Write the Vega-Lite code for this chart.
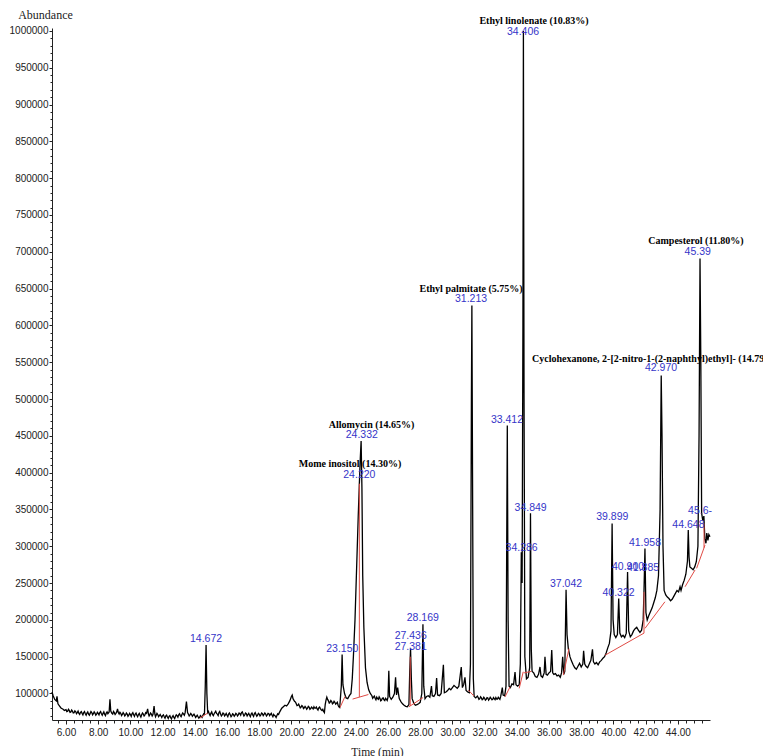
{
  "$schema": "https://vega.github.io/schema/vega-lite/v6.json",
  "width": 658,
  "height": 692,
  "autosize": {"type": "none"},
  "padding": {"left": 52, "top": 28, "right": 53, "bottom": 36},
  "background": "white",
  "config": {"view": {"stroke": null}},
  "datasets": {
    "trace": [
      {"t":5.13,"a":102000},{"t":5.2,"a":97000},{"t":5.3,"a":92000},{"t":5.4,"a":90000},{"t":5.44,"a":96000},{"t":5.5,"a":86000},{"t":5.6,"a":83000},{"t":5.7,"a":80000},{"t":5.8,"a":79000},{"t":5.9,"a":77000},
      {"t":6.0,"a":78000},{"t":6.05,"a":75500},{"t":6.1,"a":76000},{"t":6.15,"a":78500},{"t":6.2,"a":77000},{"t":6.25,"a":74500},{"t":6.3,"a":75000},{"t":6.35,"a":77500},{"t":6.4,"a":76000},{"t":6.45,"a":73500},{"t":6.5,"a":74000},{"t":6.55,"a":76500},{"t":6.6,"a":75500},{"t":6.65,"a":72500},{"t":6.7,"a":74000},{"t":6.75,"a":76000},{"t":6.8,"a":73000},{"t":6.85,"a":71500},{"t":6.9,"a":74500},{"t":6.95,"a":75500},
      {"t":7.0,"a":73000},{"t":7.05,"a":71000},{"t":7.1,"a":74000},{"t":7.15,"a":75500},{"t":7.2,"a":72500},{"t":7.25,"a":70500},{"t":7.3,"a":73500},{"t":7.35,"a":75000},{"t":7.4,"a":72000},{"t":7.45,"a":70500},{"t":7.5,"a":73000},{"t":7.55,"a":75500},{"t":7.6,"a":74000},{"t":7.65,"a":71000},{"t":7.7,"a":72500},{"t":7.75,"a":75000},{"t":7.8,"a":73500},{"t":7.85,"a":70500},{"t":7.9,"a":72000},{"t":7.95,"a":74500},
      {"t":8.0,"a":73000},{"t":8.05,"a":71000},{"t":8.1,"a":74000},{"t":8.15,"a":75500},{"t":8.2,"a":72500},{"t":8.25,"a":70500},{"t":8.3,"a":73000},{"t":8.35,"a":75000},{"t":8.4,"a":72000},{"t":8.45,"a":70000},{"t":8.5,"a":73500},{"t":8.55,"a":75000},{"t":8.6,"a":72500},{"t":8.68,"a":75000},{"t":8.73,"a":92000},{"t":8.78,"a":76000},{"t":8.85,"a":73000},{"t":8.9,"a":72000},{"t":8.95,"a":75500},
      {"t":9.0,"a":74000},{"t":9.05,"a":71500},{"t":9.1,"a":73000},{"t":9.15,"a":75000},{"t":9.2,"a":79000},{"t":9.25,"a":74000},{"t":9.3,"a":72000},{"t":9.35,"a":74500},{"t":9.4,"a":73000},{"t":9.45,"a":70000},{"t":9.5,"a":71500},{"t":9.55,"a":74000},{"t":9.6,"a":72500},{"t":9.65,"a":69500},{"t":9.7,"a":71000},{"t":9.75,"a":73500},{"t":9.8,"a":72000},{"t":9.85,"a":69000},{"t":9.9,"a":70500},{"t":9.95,"a":73000},
      {"t":10.0,"a":71500},{"t":10.05,"a":69000},{"t":10.1,"a":72500},{"t":10.15,"a":74000},{"t":10.2,"a":71000},{"t":10.25,"a":69000},{"t":10.3,"a":72000},{"t":10.35,"a":73500},{"t":10.4,"a":70500},{"t":10.45,"a":68500},{"t":10.5,"a":71500},{"t":10.55,"a":73000},{"t":10.6,"a":70000},{"t":10.65,"a":68000},{"t":10.7,"a":71000},{"t":10.75,"a":73500},{"t":10.8,"a":72000},{"t":10.85,"a":69500},{"t":10.9,"a":71000},{"t":10.95,"a":74000},
      {"t":11.0,"a":73000},{"t":11.07,"a":79000},{"t":11.12,"a":72000},{"t":11.16,"a":69500},{"t":11.2,"a":71000},{"t":11.25,"a":73500},{"t":11.3,"a":72000},{"t":11.35,"a":69500},{"t":11.4,"a":71500},{"t":11.47,"a":83000},{"t":11.52,"a":72000},{"t":11.56,"a":68500},{"t":11.6,"a":70500},{"t":11.65,"a":73000},{"t":11.7,"a":71500},{"t":11.75,"a":68500},{"t":11.8,"a":70000},{"t":11.85,"a":71500},{"t":11.9,"a":69500},{"t":11.95,"a":67500},
      {"t":12.0,"a":70000},{"t":12.05,"a":71000},{"t":12.1,"a":68500},{"t":12.15,"a":66500},{"t":12.2,"a":69500},{"t":12.25,"a":70500},{"t":12.3,"a":68000},{"t":12.35,"a":66000},{"t":12.4,"a":69000},{"t":12.45,"a":70000},{"t":12.5,"a":67000},{"t":12.55,"a":65500},{"t":12.6,"a":68500},{"t":12.65,"a":70000},{"t":12.7,"a":67500},{"t":12.75,"a":66000},{"t":12.8,"a":69000},{"t":12.85,"a":71000},{"t":12.9,"a":70000},{"t":12.95,"a":68000},
      {"t":13.0,"a":71000},{"t":13.05,"a":72500},{"t":13.1,"a":70000},{"t":13.15,"a":68500},{"t":13.2,"a":71500},{"t":13.25,"a":73500},{"t":13.3,"a":72000},{"t":13.35,"a":70500},{"t":13.4,"a":74000},{"t":13.48,"a":89000},{"t":13.55,"a":74000},{"t":13.6,"a":72000},{"t":13.65,"a":69500},{"t":13.7,"a":71000},{"t":13.75,"a":73000},{"t":13.8,"a":71500},{"t":13.85,"a":69000},{"t":13.9,"a":70500},{"t":13.95,"a":72000},
      {"t":14.0,"a":70000},{"t":14.05,"a":67500},{"t":14.1,"a":69000},{"t":14.15,"a":70500},{"t":14.2,"a":68500},{"t":14.25,"a":66500},{"t":14.3,"a":68000},{"t":14.35,"a":70000},{"t":14.4,"a":69000},{"t":14.45,"a":67500},{"t":14.5,"a":70000},{"t":14.55,"a":72500},{"t":14.6,"a":72000},{"t":14.65,"a":110000},{"t":14.7,"a":166000},{"t":14.75,"a":100000},{"t":14.8,"a":74000},{"t":14.85,"a":75500},{"t":14.9,"a":72000},{"t":14.95,"a":70000},
      {"t":15.0,"a":73000},{"t":15.05,"a":75000},{"t":15.1,"a":71500},{"t":15.15,"a":70000},{"t":15.2,"a":72500},{"t":15.3,"a":76000},{"t":15.35,"a":73000},{"t":15.4,"a":72000},{"t":15.45,"a":70000},{"t":15.5,"a":74000},{"t":15.55,"a":75500},{"t":15.6,"a":72000},{"t":15.65,"a":69500},{"t":15.7,"a":71000},{"t":15.75,"a":73500},{"t":15.8,"a":72500},{"t":15.85,"a":69500},{"t":15.9,"a":71000},{"t":15.95,"a":73000},
      {"t":16.0,"a":70500},{"t":16.05,"a":68500},{"t":16.1,"a":72000},{"t":16.15,"a":73500},{"t":16.2,"a":71000},{"t":16.25,"a":68500},{"t":16.3,"a":70000},{"t":16.35,"a":72500},{"t":16.4,"a":71500},{"t":16.45,"a":69000},{"t":16.5,"a":70500},{"t":16.55,"a":73000},{"t":16.6,"a":72000},{"t":16.65,"a":69500},{"t":16.7,"a":71000},{"t":16.75,"a":73500},{"t":16.8,"a":72500},{"t":16.85,"a":70500},{"t":16.9,"a":74000},{"t":16.95,"a":75000},
      {"t":17.0,"a":72000},{"t":17.05,"a":69500},{"t":17.1,"a":71000},{"t":17.15,"a":73500},{"t":17.2,"a":72500},{"t":17.25,"a":69500},{"t":17.3,"a":71500},{"t":17.35,"a":73000},{"t":17.4,"a":70500},{"t":17.45,"a":68500},{"t":17.5,"a":72000},{"t":17.55,"a":73500},{"t":17.6,"a":71000},{"t":17.65,"a":69000},{"t":17.7,"a":72500},{"t":17.75,"a":74000},{"t":17.8,"a":71500},{"t":17.85,"a":69000},{"t":17.9,"a":70500},{"t":17.95,"a":73000},
      {"t":18.0,"a":72000},{"t":18.05,"a":69500},{"t":18.1,"a":71000},{"t":18.15,"a":73500},{"t":18.2,"a":72500},{"t":18.25,"a":70000},{"t":18.3,"a":71500},{"t":18.35,"a":73500},{"t":18.4,"a":72000},{"t":18.45,"a":69500},{"t":18.5,"a":71000},{"t":18.55,"a":73000},{"t":18.6,"a":72500},{"t":18.65,"a":70000},{"t":18.7,"a":71500},{"t":18.75,"a":73000},{"t":18.8,"a":70500},{"t":18.85,"a":68500},{"t":18.9,"a":71500},{"t":18.95,"a":70000},
      {"t":19.0,"a":69500},{"t":19.05,"a":67500},{"t":19.1,"a":70000},{"t":19.15,"a":72500},{"t":19.2,"a":71500},{"t":19.25,"a":74000},{"t":19.3,"a":76000},{"t":19.4,"a":80000},{"t":19.5,"a":82000},{"t":19.6,"a":84000},{"t":19.7,"a":83000},{"t":19.8,"a":86000},{"t":19.9,"a":90000},
      {"t":20.0,"a":96000},{"t":20.05,"a":98000},{"t":20.1,"a":93000},{"t":20.2,"a":89000},{"t":20.25,"a":88500},{"t":20.3,"a":86000},{"t":20.35,"a":83500},{"t":20.4,"a":84000},{"t":20.45,"a":85500},{"t":20.5,"a":83000},{"t":20.55,"a":80500},{"t":20.6,"a":81500},{"t":20.65,"a":83500},{"t":20.7,"a":82500},{"t":20.75,"a":79500},{"t":20.8,"a":80500},{"t":20.85,"a":82500},{"t":20.9,"a":81000},{"t":20.95,"a":78500},
      {"t":21.0,"a":80000},{"t":21.05,"a":82500},{"t":21.1,"a":81500},{"t":21.15,"a":78500},{"t":21.2,"a":79500},{"t":21.25,"a":81500},{"t":21.3,"a":80500},{"t":21.35,"a":79000},{"t":21.4,"a":82000},{"t":21.45,"a":80000},{"t":21.5,"a":80000},{"t":21.55,"a":81500},{"t":21.6,"a":79000},{"t":21.65,"a":77500},{"t":21.7,"a":80500},{"t":21.75,"a":81500},{"t":21.8,"a":79500},{"t":21.85,"a":78000},{"t":21.9,"a":77000},{"t":21.95,"a":78500},
      {"t":22.0,"a":75500},{"t":22.05,"a":74000},{"t":22.1,"a":85000},{"t":22.15,"a":91000},{"t":22.2,"a":95000},{"t":22.25,"a":92000},{"t":22.3,"a":90000},{"t":22.35,"a":87000},{"t":22.4,"a":88000},{"t":22.45,"a":90500},{"t":22.5,"a":89000},{"t":22.55,"a":86000},{"t":22.6,"a":87000},{"t":22.65,"a":89500},{"t":22.7,"a":88000},{"t":22.75,"a":85500},{"t":22.8,"a":86500},{"t":22.85,"a":88000},{"t":22.9,"a":84000},{"t":22.95,"a":82000},
      {"t":23.0,"a":81000},{"t":23.1,"a":110000},{"t":23.15,"a":153000},{"t":23.2,"a":112000},{"t":23.3,"a":100000},{"t":23.4,"a":94000},{"t":23.5,"a":93000},{"t":23.6,"a":97000},{"t":23.7,"a":100000},{"t":23.78,"a":120000},
      {"t":23.85,"a":150000},{"t":23.95,"a":200000},{"t":24.05,"a":270000},{"t":24.15,"a":340000},{"t":24.22,"a":385000},{"t":24.28,"a":420000},{"t":24.33,"a":443000},{"t":24.38,"a":380000},{"t":24.43,"a":260000},{"t":24.5,"a":190000},
      {"t":24.6,"a":135000},{"t":24.7,"a":115000},{"t":24.8,"a":105000},{"t":24.9,"a":100000},{"t":25.0,"a":97000},{"t":25.05,"a":93500},{"t":25.1,"a":95000},{"t":25.15,"a":96500},{"t":25.2,"a":93500},{"t":25.25,"a":91500},{"t":25.3,"a":95000},{"t":25.35,"a":93000},{"t":25.4,"a":92000},{"t":25.45,"a":95500},{"t":25.5,"a":93500},
      {"t":25.55,"a":90000},{"t":25.6,"a":91000},{"t":25.65,"a":93500},{"t":25.7,"a":94000},{"t":25.75,"a":91500},{"t":25.8,"a":90500},{"t":25.85,"a":93500},{"t":25.9,"a":92000},{"t":25.95,"a":90500},{"t":26.0,"a":95000},{"t":26.05,"a":131000},{"t":26.1,"a":96000},{"t":26.2,"a":92000},{"t":26.3,"a":95000},{"t":26.4,"a":100000},
      {"t":26.47,"a":122000},{"t":26.53,"a":98000},{"t":26.6,"a":108000},{"t":26.65,"a":100000},{"t":26.7,"a":93000},{"t":26.8,"a":89000},{"t":26.9,"a":86000},{"t":27.0,"a":84000},{"t":27.1,"a":82500},{"t":27.2,"a":82000},
      {"t":27.3,"a":85000},{"t":27.35,"a":130000},{"t":27.4,"a":161000},{"t":27.45,"a":120000},{"t":27.5,"a":93000},{"t":27.6,"a":87000},{"t":27.7,"a":84000},{"t":27.8,"a":85000},{"t":27.9,"a":86000},{"t":28.0,"a":88000},
      {"t":28.1,"a":100000},{"t":28.17,"a":194000},{"t":28.22,"a":110000},{"t":28.3,"a":93000},{"t":28.4,"a":96000},{"t":28.5,"a":97000},{"t":28.6,"a":95000},{"t":28.7,"a":110000},{"t":28.75,"a":97000},{"t":28.85,"a":96000},
      {"t":28.95,"a":100000},{"t":29.02,"a":121000},{"t":29.08,"a":98000},{"t":29.2,"a":97000},{"t":29.3,"a":100000},{"t":29.44,"a":139000},{"t":29.5,"a":101000},{"t":29.6,"a":102000},{"t":29.7,"a":104000},{"t":29.8,"a":107000},
      {"t":29.9,"a":105000},{"t":30.0,"a":108000},{"t":30.1,"a":111000},{"t":30.2,"a":109000},{"t":30.3,"a":107000},{"t":30.4,"a":110000},{"t":30.55,"a":136000},{"t":30.62,"a":108000},{"t":30.7,"a":112000},{"t":30.78,"a":122000},
      {"t":30.85,"a":104000},{"t":30.95,"a":102000},{"t":31.05,"a":101000},{"t":31.12,"a":140000},{"t":31.18,"a":500000},{"t":31.21,"a":627000},{"t":31.25,"a":400000},{"t":31.3,"a":120000},{"t":31.35,"a":96000},{"t":31.45,"a":94000},
      {"t":31.55,"a":96500},{"t":31.6,"a":94500},{"t":31.65,"a":92000},{"t":31.7,"a":93000},{"t":31.75,"a":95500},{"t":31.8,"a":94000},{"t":31.85,"a":91500},{"t":31.9,"a":92500},{"t":31.95,"a":95000},{"t":32.0,"a":93500},{"t":32.05,"a":91000},{"t":32.1,"a":92000},{"t":32.15,"a":94500},{"t":32.2,"a":94000},{"t":32.25,"a":91000},{"t":32.3,"a":92500},
      {"t":32.35,"a":95000},{"t":32.4,"a":93500},{"t":32.45,"a":91500},{"t":32.5,"a":92000},{"t":32.55,"a":94500},{"t":32.6,"a":93000},{"t":32.65,"a":91500},{"t":32.7,"a":94500},{"t":32.75,"a":92500},{"t":32.8,"a":92500},{"t":32.85,"a":95000},{"t":32.9,"a":93500},{"t":32.95,"a":92000},
      {"t":33.0,"a":96000},{"t":33.1,"a":108000},{"t":33.15,"a":98000},{"t":33.25,"a":97000},{"t":33.33,"a":110000},{"t":33.41,"a":464000},
      {"t":33.46,"a":200000},{"t":33.52,"a":110000},{"t":33.6,"a":108000},{"t":33.7,"a":113000},{"t":33.8,"a":112000},{"t":33.89,"a":129000},{"t":33.95,"a":112000},{"t":34.05,"a":110000},{"t":34.15,"a":112000},{"t":34.22,"a":140000},
      {"t":34.28,"a":292000},{"t":34.33,"a":250000},{"t":34.38,"a":600000},{"t":34.41,"a":1000000},{"t":34.45,"a":500000},{"t":34.5,"a":150000},{"t":34.6,"a":120000},{"t":34.7,"a":122000},{"t":34.8,"a":135000},{"t":34.85,"a":345000},
      {"t":34.9,"a":160000},{"t":34.95,"a":130000},{"t":35.05,"a":128000},{"t":35.15,"a":123000},{"t":35.25,"a":122000},{"t":35.35,"a":126000},{"t":35.44,"a":136000},{"t":35.5,"a":124000},{"t":35.6,"a":122000},{"t":35.7,"a":128000},
      {"t":35.75,"a":150000},{"t":35.82,"a":126000},{"t":35.9,"a":125000},{"t":36.0,"a":128000},{"t":36.1,"a":130000},{"t":36.17,"a":159000},{"t":36.23,"a":128000},{"t":36.3,"a":126000},{"t":36.4,"a":127000},{"t":36.5,"a":124000},
      {"t":36.6,"a":125000},{"t":36.7,"a":122000},{"t":36.78,"a":128000},{"t":36.85,"a":150000},{"t":36.92,"a":126000},{"t":36.98,"a":130000},{"t":37.06,"a":241000},{"t":37.12,"a":180000},{"t":37.2,"a":161000},{"t":37.3,"a":150000},
      {"t":37.4,"a":144000},{"t":37.5,"a":139000},{"t":37.6,"a":135000},{"t":37.7,"a":133000},{"t":37.8,"a":137000},{"t":37.9,"a":141000},{"t":38.0,"a":136000},{"t":38.1,"a":140000},{"t":38.15,"a":158000},{"t":38.22,"a":140000},
      {"t":38.3,"a":137000},{"t":38.4,"a":135000},{"t":38.5,"a":140000},{"t":38.6,"a":145000},{"t":38.7,"a":160000},{"t":38.76,"a":143000},{"t":38.85,"a":140000},{"t":38.95,"a":142000},{"t":39.05,"a":139000},{"t":39.15,"a":143000},
      {"t":39.25,"a":145000},{"t":39.35,"a":148000},{"t":39.45,"a":150000},{"t":39.55,"a":155000},{"t":39.65,"a":162000},{"t":39.75,"a":168000},{"t":39.85,"a":185000},{"t":39.92,"a":331000},{"t":39.98,"a":200000},{"t":40.05,"a":180000},
      {"t":40.15,"a":176000},{"t":40.25,"a":180000},{"t":40.33,"a":229000},{"t":40.4,"a":182000},{"t":40.5,"a":177000},{"t":40.6,"a":179000},{"t":40.7,"a":176000},{"t":40.8,"a":182000},{"t":40.88,"a":265000},{"t":40.95,"a":185000},
      {"t":41.05,"a":177000},{"t":41.15,"a":180000},{"t":41.25,"a":185000},{"t":41.35,"a":188000},{"t":41.45,"a":190000},{"t":41.55,"a":186000},{"t":41.65,"a":183000},{"t":41.75,"a":186000},{"t":41.85,"a":200000},{"t":41.9,"a":240000},
      {"t":41.96,"a":297000},{"t":42.02,"a":210000},{"t":42.1,"a":200000},{"t":42.2,"a":206000},{"t":42.3,"a":211000},{"t":42.4,"a":216000},{"t":42.5,"a":223000},{"t":42.6,"a":230000},{"t":42.7,"a":240000},{"t":42.8,"a":260000},
      {"t":42.9,"a":350000},{"t":42.97,"a":532000},{"t":43.02,"a":450000},{"t":43.08,"a":300000},{"t":43.15,"a":240000},{"t":43.25,"a":234000},{"t":43.35,"a":231000},{"t":43.45,"a":229000},{"t":43.55,"a":226000},{"t":43.65,"a":228000},
      {"t":43.75,"a":232000},{"t":43.85,"a":236000},{"t":43.95,"a":240000},{"t":44.05,"a":238000},{"t":44.14,"a":245000},{"t":44.2,"a":240000},{"t":44.3,"a":248000},{"t":44.4,"a":254000},{"t":44.5,"a":262000},{"t":44.6,"a":280000},
      {"t":44.65,"a":322000},{"t":44.7,"a":285000},{"t":44.75,"a":272000},{"t":44.85,"a":270000},{"t":44.95,"a":268000},{"t":45.05,"a":272000},{"t":45.15,"a":279000},{"t":45.25,"a":300000},{"t":45.32,"a":450000},{"t":45.38,"a":691000},
      {"t":45.43,"a":550000},{"t":45.48,"a":345000},{"t":45.55,"a":335000},{"t":45.62,"a":341000},{"t":45.68,"a":310000},{"t":45.75,"a":304000},{"t":45.8,"a":318000},{"t":45.87,"a":308000},{"t":45.93,"a":316000},{"t":46.0,"a":313000}
    ],
    "base": [
      {"seg":1,"t":14.32,"a":66600},{"seg":1,"t":14.8,"a":73400},
      {"seg":2,"t":23.02,"a":81000},{"seg":2,"t":23.33,"a":96000},
      {"seg":3,"t":23.8,"a":92400},{"seg":3,"t":24.78,"a":98600},
      {"seg":4,"t":24.22,"a":95100},{"seg":4,"t":24.22,"a":385000},
      {"seg":5,"t":27.3,"a":82000},{"seg":5,"t":28.18,"a":94500},
      {"seg":6,"t":27.38,"a":83000},{"seg":6,"t":27.38,"a":150000},
      {"seg":7,"t":30.99,"a":104600},{"seg":7,"t":31.34,"a":96500},
      {"seg":8,"t":33.27,"a":95500},{"seg":8,"t":33.58,"a":109000},
      {"seg":9,"t":34.15,"a":107000},{"seg":9,"t":34.4,"a":129500},
      {"seg":10,"t":34.45,"a":128000},{"seg":10,"t":34.9,"a":130000},
      {"seg":11,"t":36.89,"a":125000},{"seg":11,"t":37.24,"a":161000},
      {"seg":12,"t":39.48,"a":152000},{"seg":12,"t":41.9,"a":182000},
      {"seg":13,"t":41.9,"a":182000},{"seg":13,"t":41.9,"a":238000},
      {"seg":14,"t":41.96,"a":188400},{"seg":14,"t":43.2,"a":224600},
      {"seg":15,"t":44.45,"a":245000},{"seg":15,"t":45.07,"a":267700},
      {"seg":16,"t":45.17,"a":270000},{"seg":16,"t":45.69,"a":301600},
      {"seg":17,"t":45.63,"a":298000},{"seg":17,"t":45.63,"a":331000}
    ],
    "names": [
      {"t":35.07,"a":1013200,"label":"Ethyl linolenate (10.83%)"},
      {"t":45.13,"a":715100,"label":"Campesterol (11.80%)"},
      {"t":42.57,"a":553950,"label":"Cyclohexanone, 2-[2-nitro-1-(2-naphthyl)ethyl]- (14.79%)"},
      {"t":31.16,"a":649460,"label":"Ethyl palmitate (5.75%)"},
      {"t":24.98,"a":464670,"label":"Allomycin (14.65%)"},
      {"t":23.64,"a":411680,"label":"Mome inositol (14.30%)"}
    ],
    "rts": [
      {"t":34.39,"a":998600,"label":"34.406"},
      {"t":45.24,"a":700140,"label":"45.39"},
      {"t":42.96,"a":541700,"label":"42.970"},
      {"t":31.16,"a":635870,"label":"31.213"},
      {"t":24.37,"a":451080,"label":"24.332"},
      {"t":24.22,"a":396730,"label":"24.220"},
      {"t":33.39,"a":471470,"label":"33.412"},
      {"t":34.86,"a":352310,"label":"34.849"},
      {"t":34.3,"a":297960,"label":"34.286"},
      {"t":39.93,"a":339270,"label":"39.899"},
      {"t":37.06,"a":248640,"label":"37.042"},
      {"t":40.91,"a":272150,"label":"40.900"},
      {"t":41.84,"a":270000,"label":"41.885"},
      {"t":40.32,"a":236000,"label":"40.322"},
      {"t":41.96,"a":303940,"label":"41.958"},
      {"t":44.66,"a":328800,"label":"44.648"},
      {"t":45.38,"a":348240,"label":"45.6-"},
      {"t":14.7,"a":173500,"label":"14.672"},
      {"t":23.16,"a":159900,"label":"23.150"},
      {"t":27.41,"a":178000,"label":"27.436"},
      {"t":27.41,"a":163470,"label":"27.381"},
      {"t":28.16,"a":202000,"label":"28.169"}
    ]
  },
  "layer": [
    {
      "data": {"name": "trace"},
      "mark": {"type": "point", "opacity": 0},
      "encoding": {
        "x": {"field": "t", "type": "quantitative", "scale": {"domain": [5.13, 46.0], "nice": false, "zero": false},
          "axis": {"orient": "bottom", "values": [5.5,6,6.5,7,7.5,8,8.5,9,9.5,10,10.5,11,11.5,12,12.5,13,13.5,14,14.5,15,15.5,16,16.5,17,17.5,18,18.5,19,19.5,20,20.5,21,21.5,22,22.5,23,23.5,24,24.5,25,25.5,26,26.5,27,27.5,28,28.5,29,29.5,30,30.5,31,31.5,32,32.5,33,33.5,34,34.5,35,35.5,36,36.5,37,37.5,38,38.5,39,39.5,40,40.5,41,41.5,42,42.5,43,43.5,44,44.5,45,45.5], "labels": false, "domain": false, "grid": false, "tickSize": 3, "tickColor": "#222", "title": null}},
        "y": {"field": "a", "type": "quantitative", "scale": {"domain": [64000, 1004000], "nice": false, "zero": false},
          "axis": {"orient": "left", "values": [70000,80000,90000,100000,110000,120000,130000,140000,150000,160000,170000,180000,190000,200000,210000,220000,230000,240000,250000,260000,270000,280000,290000,300000,310000,320000,330000,340000,350000,360000,370000,380000,390000,400000,410000,420000,430000,440000,450000,460000,470000,480000,490000,500000,510000,520000,530000,540000,550000,560000,570000,580000,590000,600000,610000,620000,630000,640000,650000,660000,670000,680000,690000,700000,710000,720000,730000,740000,750000,760000,770000,780000,790000,800000,810000,820000,830000,840000,850000,860000,870000,880000,890000,900000,910000,920000,930000,940000,950000,960000,970000,980000,990000,1000000], "labels": false, "domain": false, "grid": false, "tickSize": 2, "tickColor": "#222", "title": null}}
      }
    },
    {
      "data": {"name": "trace"},
      "mark": {"type": "line", "color": "black", "strokeWidth": 1.3},
      "encoding": {
        "x": {"field": "t", "type": "quantitative",
          "axis": {"orient": "bottom", "values": [6,8,10,12,14,16,18,20,22,24,26,28,30,32,34,36,38,40,42,44], "format": ".2f", "grid": false, "domainColor": "#222", "tickColor": "#222", "tickSize": 4, "labelPadding": 3, "labelFont": "Liberation Sans", "labelFontSize": 10, "labelColor": "#222",
            "title": "Time (min)", "titleFont": "Liberation Serif", "titleFontWeight": "normal", "titleFontSize": 11.5, "titleColor": "#222", "titleX": 325, "titleY": 32, "titleBaseline": "middle", "titleAlign": "center"}},
        "y": {"field": "a", "type": "quantitative",
          "axis": {"orient": "left", "values": [100000,150000,200000,250000,300000,350000,400000,450000,500000,550000,600000,650000,700000,750000,800000,850000,900000,950000,1000000], "format": "d", "grid": false, "domainColor": "#222", "tickColor": "#222", "tickSize": 3, "labelPadding": 1, "labelFont": "Liberation Sans", "labelFontSize": 10, "labelColor": "#222",
            "title": "Abundance", "titleFont": "Liberation Serif", "titleFontWeight": "normal", "titleFontSize": 12, "titleColor": "#222", "titleAngle": 0, "titleX": -7, "titleY": -14, "titleAlign": "center", "titleBaseline": "middle"}}
      }
    },
    {
      "data": {"name": "base"},
      "mark": {"type": "line", "color": "#e04a44", "strokeWidth": 1},
      "encoding": {
        "x": {"field": "t", "type": "quantitative", "axis": null},
        "y": {"field": "a", "type": "quantitative", "axis": null},
        "detail": {"field": "seg", "type": "nominal"}
      }
    },
    {
      "data": {"name": "names"},
      "mark": {"type": "text", "font": "Liberation Serif", "fontWeight": "bold", "fontSize": 10, "color": "black", "align": "center", "baseline": "middle"},
      "encoding": {
        "x": {"field": "t", "type": "quantitative", "axis": null},
        "y": {"field": "a", "type": "quantitative", "axis": null},
        "text": {"field": "label", "type": "nominal"}
      }
    },
    {
      "data": {"name": "rts"},
      "mark": {"type": "text", "font": "Liberation Sans", "fontSize": 10.5, "color": "#3535c8", "align": "center", "baseline": "middle"},
      "encoding": {
        "x": {"field": "t", "type": "quantitative", "axis": null},
        "y": {"field": "a", "type": "quantitative", "axis": null},
        "text": {"field": "label", "type": "nominal"}
      }
    }
  ],
  "resolve": {"axis": {"x": "independent", "y": "independent"}}
}
